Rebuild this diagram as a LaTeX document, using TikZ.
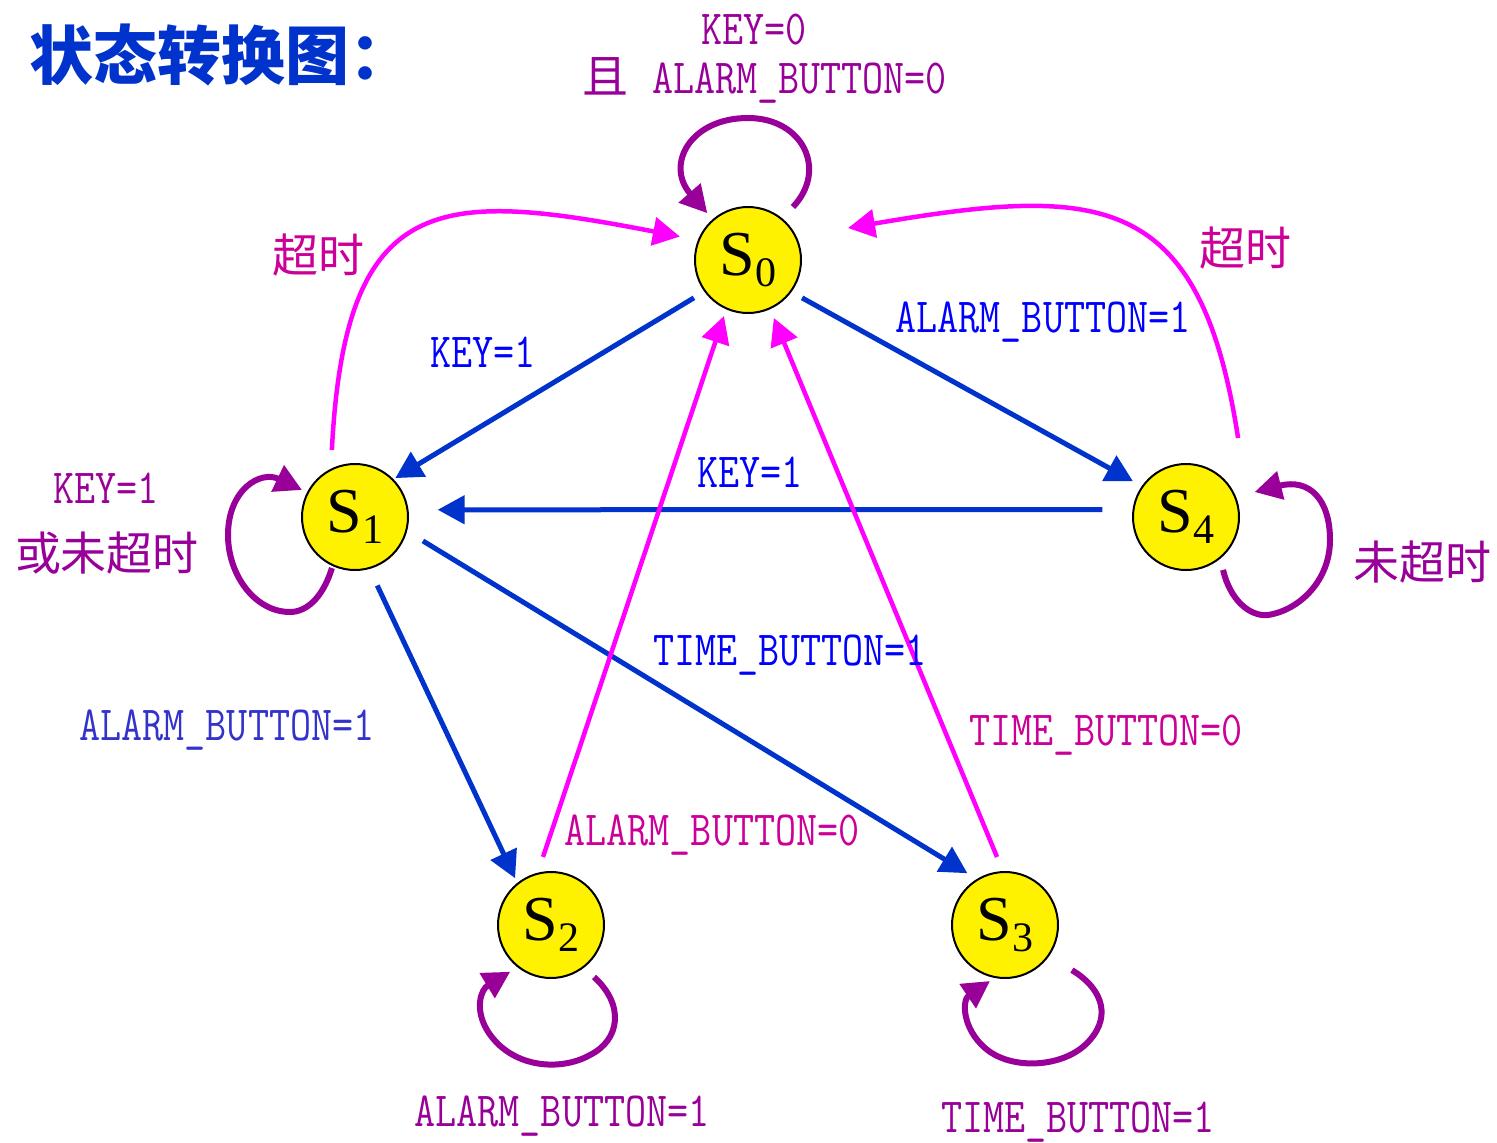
\documentclass[tikz,border=0pt]{standalone}
\usepackage{fontspec}
\usepackage{graphicx}
\setmainfont{Liberation Serif}
\newfontfamily\cjk{Noto Sans CJK SC}
\usetikzlibrary{arrows.meta}
\definecolor{edgeblue}{RGB}{0,51,204}
\definecolor{mag}{RGB}{255,0,255}
\definecolor{purp}{RGB}{153,0,153}
\definecolor{labblue}{RGB}{0,0,255}
\definecolor{labblueb}{RGB}{51,51,204}
\definecolor{pinklab}{RGB}{204,0,153}
\newcommand\Sn[1]{{\fontsize{64pt}{64pt}\selectfont S}\raisebox{-11pt}{\fontsize{42pt}{42pt}\selectfont #1}}
\newcommand\Lb[1]{\scalebox{0.835}[1]{\ttfamily\fontsize{49pt}{49pt}\selectfont #1}}
\tikzset{
  state/.style={circle,draw=black,line width=2pt,fill=yellow,minimum size=106pt,inner sep=0pt},
  tipA/.style={-{Triangle[length=27pt,width=28pt]}},
  blueedge/.style={draw=edgeblue,line width=5pt,tipA},
  magedge/.style={draw=mag,line width=4.5pt,tipA},
  loopedge/.style={draw=purp,line width=6pt,tipA},
  lab/.style={inner sep=0pt},
  cn/.style={font={\cjk\fontsize{46pt}{46pt}\selectfont},inner sep=0pt},
}
\begin{document}
\begin{tikzpicture}[x=1pt,y=-1pt]
\fill[white] (0,0) rectangle (1497,1143);
\useasboundingbox (0,0) rectangle (1497,1143);

% title
\node[anchor=west,inner sep=0pt,text=edgeblue,font={\cjk\bfseries\fontsize{64pt}{64pt}\selectfont}] (title) at (29,55) {状态转换图：};

% states
\node[state] (s0) at (748,260) {\Sn{0}};
\node[state] (s1) at (355,517) {\Sn{1}};
\node[state] (s4) at (1186,517) {\Sn{4}};
\node[state] (s2) at (551,925) {\Sn{2}};
\node[state] (s3) at (1005,925) {\Sn{3}};

% blue edges
\draw[blueedge] ([shift={(215:66pt)}]s0.center) -- ([shift={(44:56pt)}]s1.center);
\draw[blueedge] ([shift={(325:66pt)}]s0.center) -- ([shift={(146:64pt)}]s4.center);
\draw[blueedge] ([shift={(175:84pt)}]s4.center) -- ([shift={(5:83pt)}]s1.center);
\draw[blueedge] ([shift={(288:72pt)}]s1.center) -- ([shift={(127.5:59pt)}]s2.center);
\draw[blueedge] ([shift={(340.6:72pt)}]s1.center) -- ([shift={(126:64pt)}]s3.center);

% magenta edges
\draw[magedge] ([shift={(96.7:68.5pt)}]s2.center) -- ([shift={(246.8:61pt)}]s0.center);
\draw[magedge] ([shift={(96.7:68.5pt)}]s3.center) -- ([shift={(294:63.5pt)}]s0.center);
\draw[magedge] ([shift={(109:71pt)}]s1.center) .. controls (345,190) and (440,190) .. ([shift={(161:72pt)}]s0.center);
\draw[magedge] ([shift={(56.6:94.6pt)}]s4.center) .. controls (1200,190) and (1100,185) .. ([shift={(17.7:105pt)}]s0.center);

% self loops
\draw[loopedge] ([shift={(49.7:69.5pt)}]s0.center) .. controls (828,170) and (803,118) .. (748,118)
  .. controls (690,118) and (665,165) .. ([shift={(131:62pt)}]s0.center);
\draw[loopedge] ([shift={(245.7:56pt)}]s1.center) .. controls (322,600) and (305,612) .. (290,612)
  .. controls (255,612) and (228,575) .. (228,535)
  .. controls (228,490) and (260,470) .. ([shift={(153:59.5pt)}]s1.center);
\draw[loopedge] ([shift={(305:64.6pt)}]s4.center) .. controls (1230,600) and (1250,617) .. (1268,615)
  .. controls (1300,610) and (1330,580) .. (1330,540)
  .. controls (1330,500) and (1310,478) .. ([shift={(20:73pt)}]s4.center);
\draw[loopedge] ([shift={(309.6:67.5pt)}]s2.center) .. controls (625,1005) and (620,1040) .. (590,1055)
  .. controls (560,1072) and (510,1068) .. (487,1030)
  .. controls (475,1010) and (480,990) .. ([shift={(228.9:62pt)}]s2.center);
\draw[loopedge] ([shift={(326:80.7pt)}]s3.center) .. controls (1105,990) and (1112,1020) .. (1085,1045)
  .. controls (1060,1068) and (1010,1070) .. (985,1048)
  .. controls (962,1028) and (962,1000) .. ([shift={(255:58pt)}]s3.center);

% labels
\node[lab,text=purp] (l1) at (754,30) {\Lb{KEY=0}};
\node[inner sep=0pt,text=purp] (l2) at (765,80) {{\cjk\fontsize{46pt}{46pt}\selectfont 且}\hspace{2pt}\Lb{~ALARM\_BUTTON=0}};
\node[cn,text=pinklab] (l3) at (318,255) {超时};
\node[cn,text=pinklab] (l4) at (1245,248) {超时};
\node[lab,text=labblue] (l5) at (483,352) {\Lb{KEY=1}};
\node[lab,text=labblue] (l6) at (1043,322) {\Lb{ALARM\_BUTTON=1}};
\node[lab,text=purp] (l7) at (106,488) {\Lb{KEY=1}};
\node[cn,text=purp] (l8) at (107,553) {或未超时};
\node[lab,text=labblue] (l9) at (750,472) {\Lb{KEY=1}};
\node[cn,text=purp] (l10) at (1422,562) {未超时};
\node[lab,text=labblue] (l11) at (790,655) {\Lb{TIME\_BUTTON=1}};
\node[lab,text=labblueb] (l12) at (227,730) {\Lb{ALARM\_BUTTON=1}};
\node[lab,text=pinklab] (l13) at (1106,735) {\Lb{TIME\_BUTTON=0}};
\node[lab,text=pinklab] (l14) at (712,835) {\Lb{ALARM\_BUTTON=0}};
\node[lab,text=purp] (l15) at (562,1116) {\Lb{ALARM\_BUTTON=1}};
\node[lab,text=purp] (l16) at (1078,1122) {\Lb{TIME\_BUTTON=1}};
\end{tikzpicture}
\end{document}
